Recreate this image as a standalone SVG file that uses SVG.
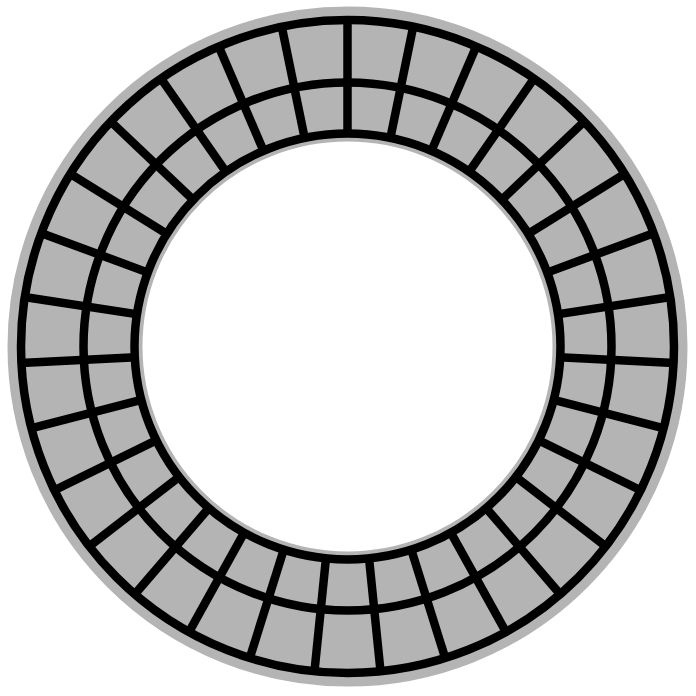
<svg xmlns="http://www.w3.org/2000/svg" xmlns:xlink="http://www.w3.org/1999/xlink" width="696" height="696" viewBox="0 0 696 696">
<style>
.ring{fill:none;stroke:#000;stroke-width:8.5}
.spoke{stroke:#000;stroke-width:8.5}
</style>
<defs>
<line id="sp" class="spoke" x1="0" y1="-212" x2="0" y2="-327"/>
</defs>
<rect width="696" height="696" fill="#fff"/>
<g transform="translate(347.5,346.5)">
<circle id="band" r="272.5" fill="none" stroke="#b3b4b3" stroke-width="135"/>
<g id="spokes">
<use xlink:href="#sp" transform="rotate(0)"/>
<use xlink:href="#sp" transform="rotate(11.613)"/>
<use xlink:href="#sp" transform="rotate(23.226)"/>
<use xlink:href="#sp" transform="rotate(34.839)"/>
<use xlink:href="#sp" transform="rotate(46.452)"/>
<use xlink:href="#sp" transform="rotate(58.065)"/>
<use xlink:href="#sp" transform="rotate(69.677)"/>
<use xlink:href="#sp" transform="rotate(81.290)"/>
<use xlink:href="#sp" transform="rotate(92.903)"/>
<use xlink:href="#sp" transform="rotate(104.516)"/>
<use xlink:href="#sp" transform="rotate(116.129)"/>
<use xlink:href="#sp" transform="rotate(127.742)"/>
<use xlink:href="#sp" transform="rotate(139.355)"/>
<use xlink:href="#sp" transform="rotate(150.968)"/>
<use xlink:href="#sp" transform="rotate(162.581)"/>
<use xlink:href="#sp" transform="rotate(174.194)"/>
<use xlink:href="#sp" transform="rotate(185.806)"/>
<use xlink:href="#sp" transform="rotate(197.419)"/>
<use xlink:href="#sp" transform="rotate(209.032)"/>
<use xlink:href="#sp" transform="rotate(220.645)"/>
<use xlink:href="#sp" transform="rotate(232.258)"/>
<use xlink:href="#sp" transform="rotate(243.871)"/>
<use xlink:href="#sp" transform="rotate(255.484)"/>
<use xlink:href="#sp" transform="rotate(267.097)"/>
<use xlink:href="#sp" transform="rotate(278.710)"/>
<use xlink:href="#sp" transform="rotate(290.323)"/>
<use xlink:href="#sp" transform="rotate(301.935)"/>
<use xlink:href="#sp" transform="rotate(313.548)"/>
<use xlink:href="#sp" transform="rotate(325.161)"/>
<use xlink:href="#sp" transform="rotate(336.774)"/>
<use xlink:href="#sp" transform="rotate(348.387)"/>
</g>
<g id="rings">
<circle class="ring" r="326.5"/>
<circle class="ring" r="264"/>
<circle class="ring" r="213"/>
</g>
</g>
</svg>
